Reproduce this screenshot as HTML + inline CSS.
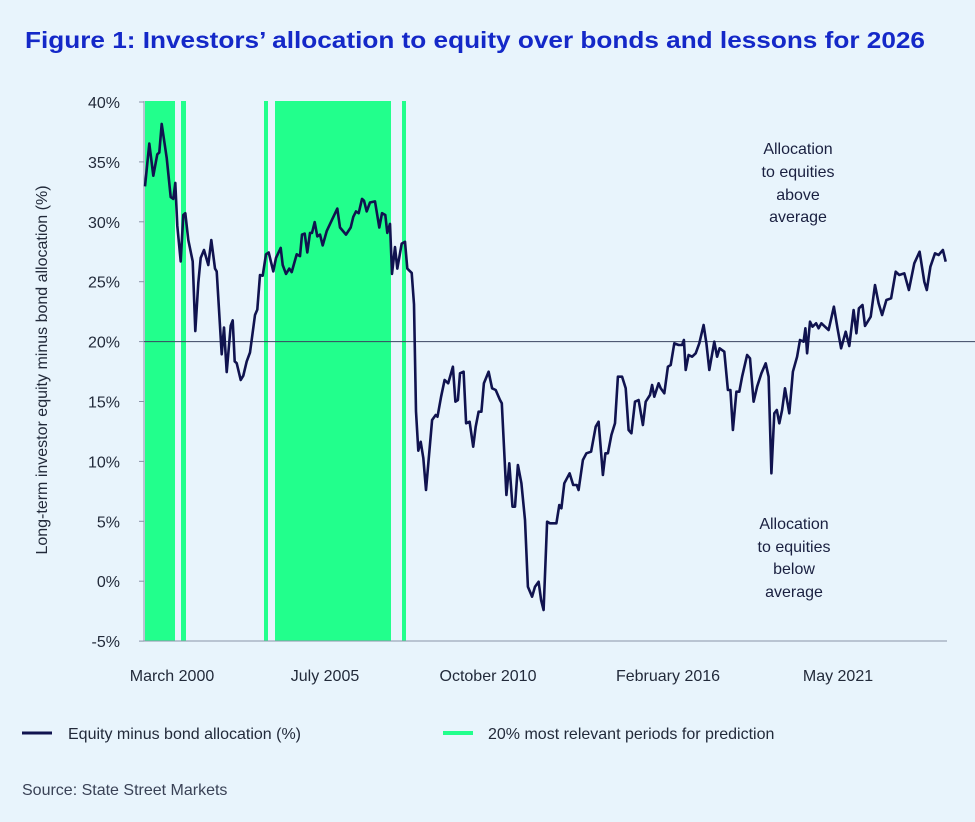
<!DOCTYPE html>
<html><head><meta charset="utf-8"><style>
body{margin:0;background:#e8f4fc;}
svg{display:block;font-family:"Liberation Sans",sans-serif;}
</style></head><body>
<svg id="s" width="975" height="822" viewBox="0 0 975 822">
<rect width="975" height="822" fill="#e8f4fc"/>
<text x="25" y="48" font-size="23" font-weight="bold" fill="#1428c8" textLength="900" lengthAdjust="spacingAndGlyphs">Figure 1: Investors’ allocation to equity over bonds and lessons for 2026</text>
<g fill="#22ff8c">
<rect x="145" y="101" width="30" height="540"/>
<rect x="181" y="101" width="5" height="540"/>
<rect x="264" y="101" width="4" height="540"/>
<rect x="275" y="101" width="116" height="540"/>
<rect x="402" y="101" width="4" height="540"/>
</g>
<g stroke="#8a93a8" stroke-width="1">
<line x1="144" y1="101" x2="144" y2="641"/>
<line x1="144" y1="641" x2="947" y2="641"/>
</g>
<g stroke="#8a93a8" id="ticks"></g>
<line x1="144" y1="341.6" x2="975" y2="341.6" stroke="#3a4560" stroke-width="1"/>
<g font-size="16" fill="#222a3a" text-anchor="end" id="yl"></g>
<g font-size="16" fill="#222a3a" text-anchor="middle">
<text x="172" y="681">March 2000</text>
<text x="325" y="681">July 2005</text>
<text x="488" y="681">October 2010</text>
<text x="668" y="681">February 2016</text>
<text x="838" y="681">May 2021</text>
</g>
<text transform="translate(47,370) rotate(-90)" font-size="16" fill="#222a3a" text-anchor="middle">Long-term investor equity minus bond allocation (%)</text>
<g font-size="16" fill="#1a2040" text-anchor="middle">
<text x="798" y="154">Allocation</text><text x="798" y="177">to equities</text><text x="798" y="200">above</text><text x="798" y="222">average</text>
<text x="794" y="529">Allocation</text><text x="794" y="552">to equities</text><text x="794" y="574">below</text><text x="794" y="597">average</text>
</g>
<polyline id="ln" fill="none" stroke="#10134f" stroke-width="2.6" stroke-linejoin="round"/>
<line x1="22" y1="733" x2="52" y2="733" stroke="#10134f" stroke-width="3"/>
<text x="68" y="739" font-size="16" fill="#222a3a">Equity minus bond allocation (%)</text>
<line x1="443" y1="733" x2="473" y2="733" stroke="#22ff8c" stroke-width="4"/>
<text x="488" y="739" font-size="16" fill="#222a3a">20% most relevant periods for prediction</text>
<text x="22" y="795" font-size="16" fill="#3a4256">Source: State Street Markets</text>
</svg>
<script>
var NS="http://www.w3.org/2000/svg";
var yl=document.getElementById("yl"),tk=document.getElementById("ticks");
for(var v=40;v>=-5;v-=5){var y=102+(40-v)*11.98;
var t=document.createElementNS(NS,"text");t.setAttribute("x","120");t.setAttribute("y",(y+6).toFixed(1));t.textContent=v+"%";yl.appendChild(t);
var l=document.createElementNS(NS,"line");l.setAttribute("x1","139");l.setAttribute("x2","144");l.setAttribute("y1",y);l.setAttribute("y2",y);tk.appendChild(l);}
var a=[[135,270],[148,150],[160,240],[172,180],[178,175],[185,95],[200,190],[212,300],[220,305],[226,260],[232,380],[242,480],[250,350],[256,345],[265,420],[278,480],[286,675],[295,540],[302,470],[312,448],[325,490],[334,420],[345,500],[350,508],[365,740],[372,665],[380,790],[392,660],[398,645],[404,760],[410,765],[422,812],[430,800],[440,760],[450,735],[465,630],[472,615],[480,518],[488,520],[498,460],[506,455],[520,508],[528,470],[542,442],[548,490],[558,515],[568,500],[575,510],[590,460],[600,465],[606,405],[614,402],[622,455],[630,400],[636,400],[644,370],[652,410],[660,405],[668,435],[680,395],[695,365],[712,332],[720,385],[738,405],[752,385],[760,355],[768,340],[776,345],[786,305],[792,310],[800,340],[810,315],[825,312],[838,385],[846,345],[856,350],[862,400],[870,375],[876,515],[885,440],[892,500],[905,430],[915,425],[922,500],[935,512],[942,600],[948,900],[955,1010],[962,985],[970,1030],[978,1120]];
var b=[[90,600],[100,585],[105,590],[115,530],[125,480],[135,490],[148,440],[155,545],[162,540],[168,460],[178,455],[185,610],[195,605],[205,680],[212,620],[220,575],[228,575],[235,490],[248,455],[258,505],[268,510],[280,540],[285,550],[298,825],[306,730],[315,860],[322,860],[330,735],[340,790],[350,900],[358,1100],[370,1130],[378,1100],[388,1085],[395,1140],[402,1170],[412,905],[420,910],[438,910],[446,855],[452,865],[460,790],[475,760],[485,795],[495,795],[500,810],[512,720],[522,700],[535,695],[548,620],[556,605],[568,765],[575,700],[582,700],[592,645],[602,610],[610,470],[622,470],[632,505],[640,630],[648,640],[658,545],[668,540],[680,615],[688,545],[700,525],[706,495],[712,530],[724,490],[730,505],[740,520],[750,440],[758,435],[768,370],[780,375],[790,375],[795,360],[800,450],[808,405],[818,410],[828,400],[838,370],[850,315],[858,370],[866,450],[880,365],[888,410],[895,385],[908,395],[918,510],[925,510],[932,630],[942,515],[950,515],[958,470],[972,405],[980,415],[990,545],[1000,500],[1012,460],[1024,430],[1032,470],[1040,760],[1048,580],[1055,570],[1062,610],[1070,570],[1078,505],[1090,580],[1100,455],[1112,410],[1120,360],[1130,365],[1135,325],[1140,400],[1148,305],[1155,320],[1165,310],[1172,325],[1180,310],[1190,320],[1200,330],[1215,260],[1225,325],[1235,385],[1248,335],[1258,378],[1270,270],[1278,340],[1285,265],[1295,255],[1302,318],[1318,290],[1330,195],[1340,250],[1350,285],[1362,240],[1375,235],[1388,155],[1398,165],[1412,160],[1425,210],[1440,130],[1455,95],[1468,185],[1475,210],[1485,140],[1498,100],[1508,105],[1520,90],[1528,125]];
var p=[];a.forEach(function(q){p.push((100+q[0]/3).toFixed(1)+","+(90+q[1]/2.8).toFixed(1));});
b.forEach(function(q){p.push((400+q[0]/2.8).toFixed(1)+","+(220+q[1]/3).toFixed(1));});
document.getElementById("ln").setAttribute("points",p.join(" "));
</script>
</body></html>
